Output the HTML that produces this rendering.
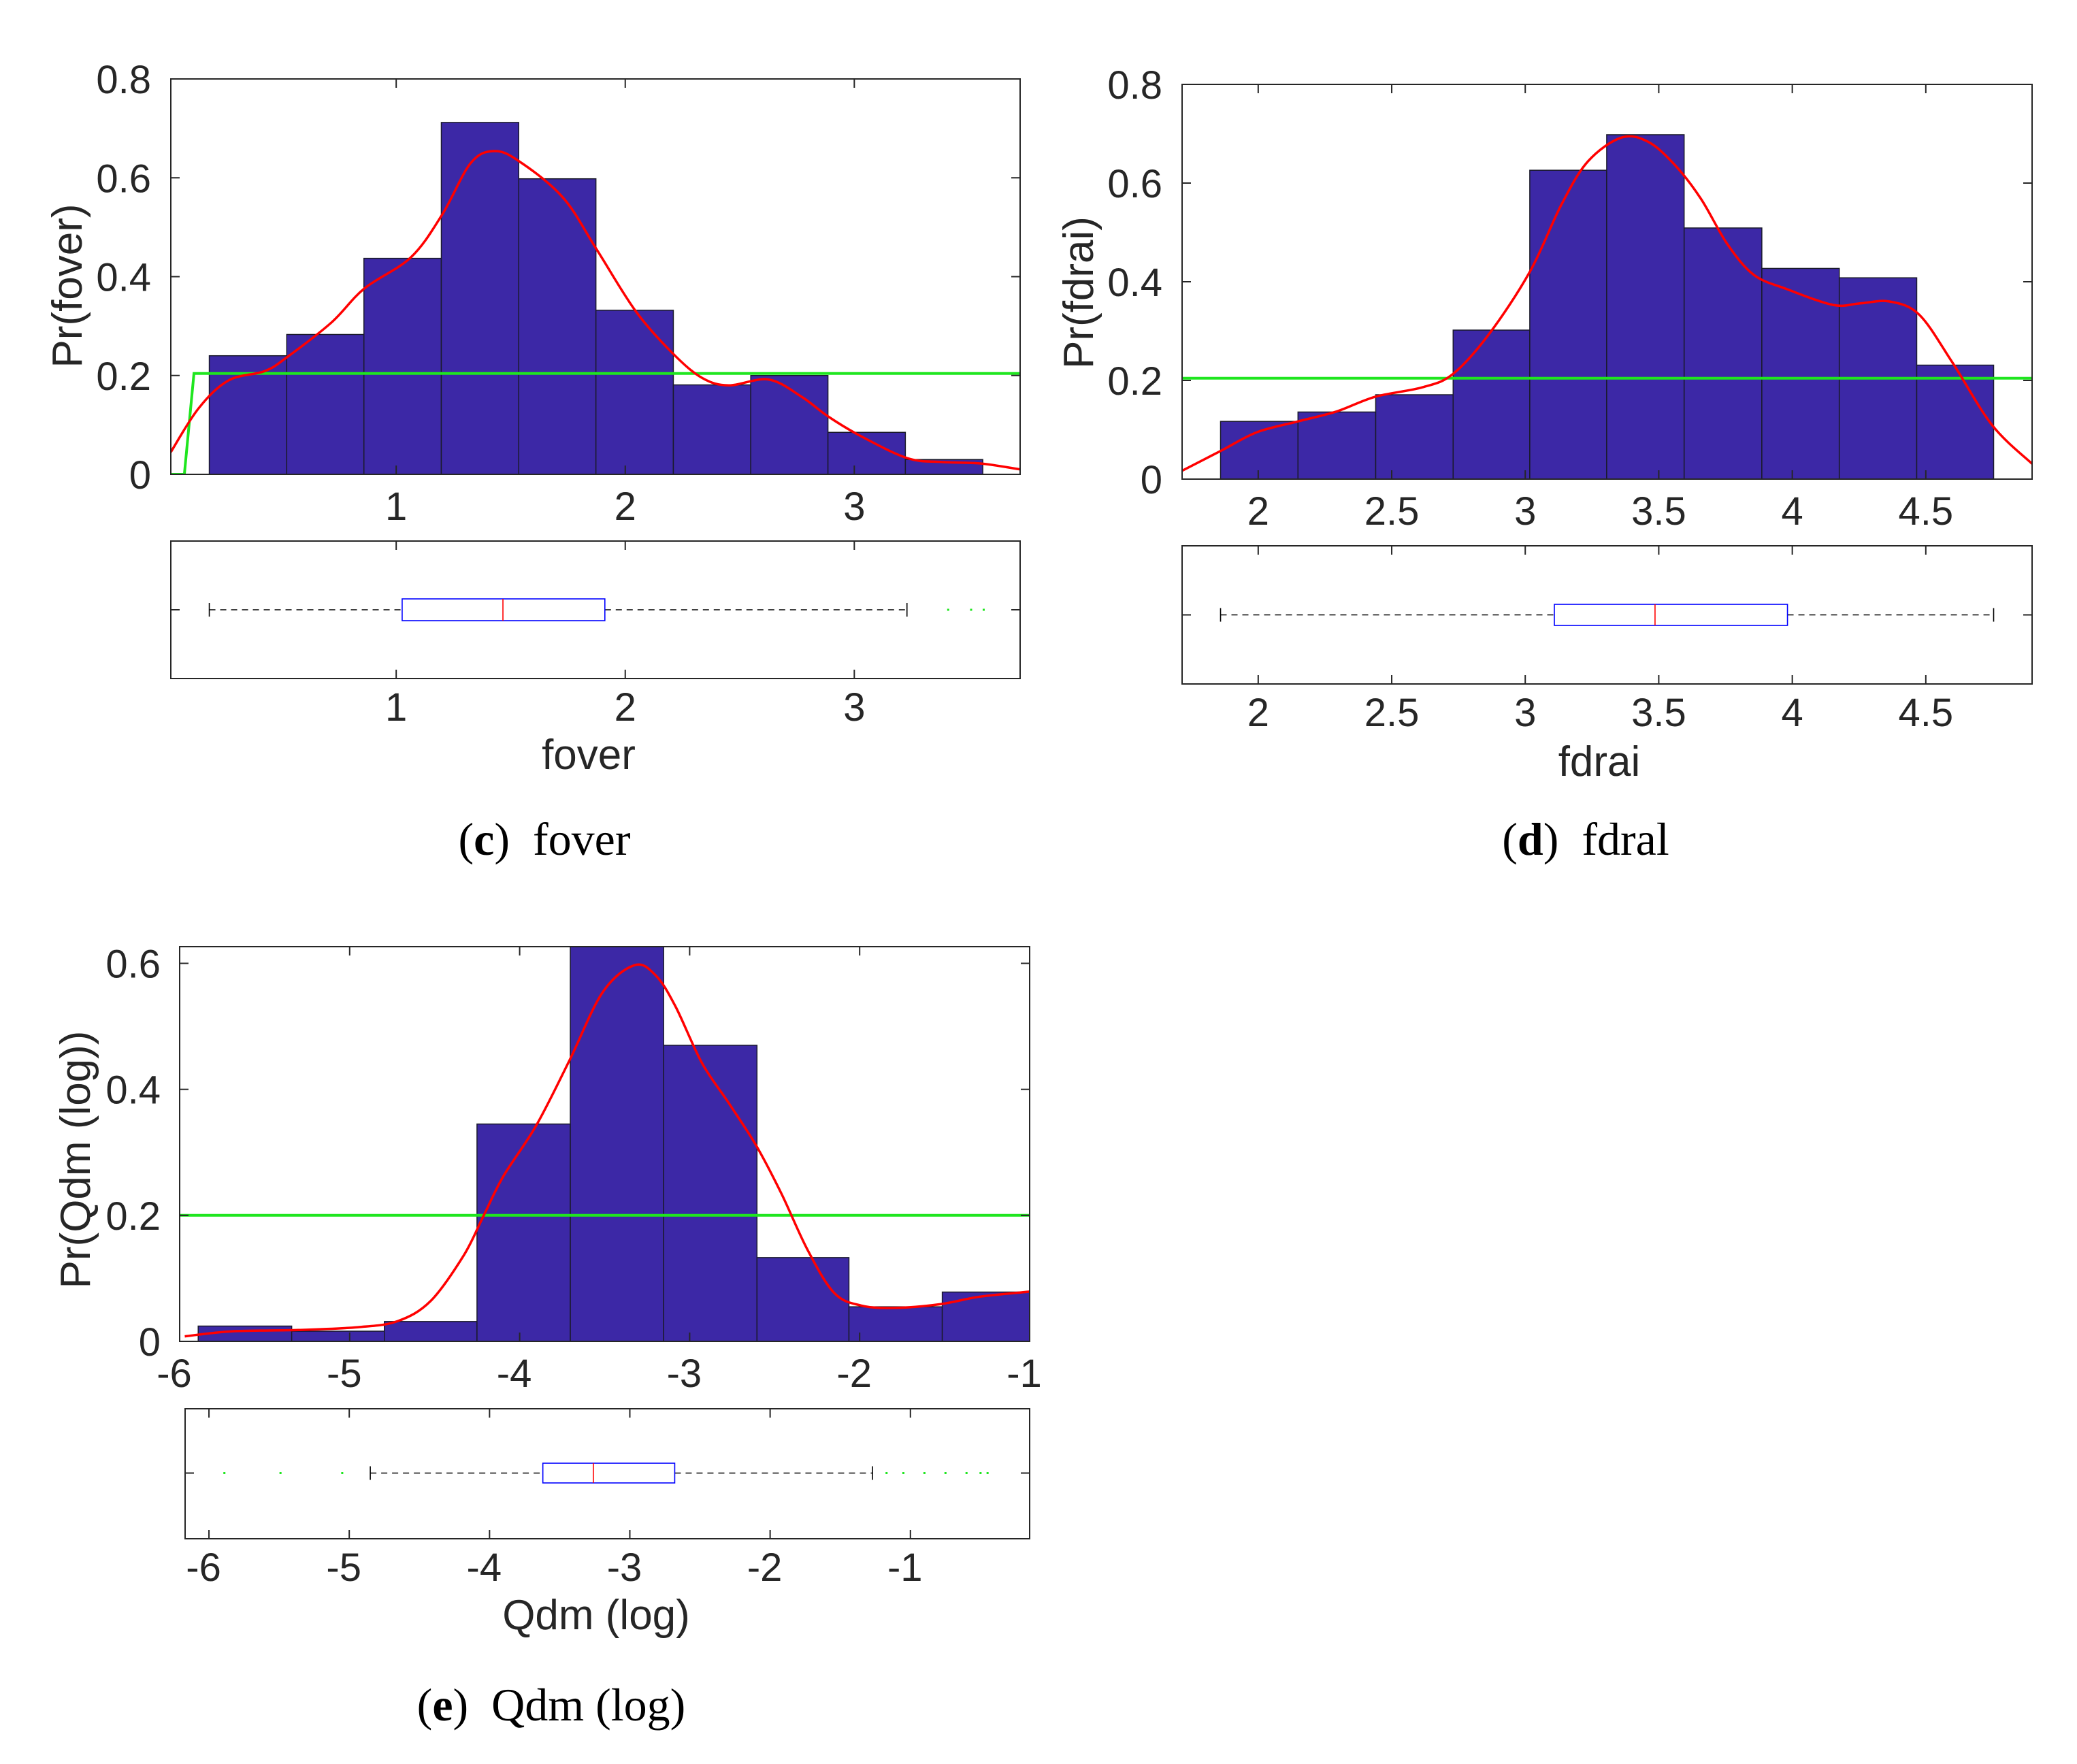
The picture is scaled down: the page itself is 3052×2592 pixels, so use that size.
<!DOCTYPE html>
<html><head><meta charset="utf-8"><style>
html,body{margin:0;padding:0;background:#fff}
svg{display:block}
text{font-family:"Liberation Sans",sans-serif;fill:#262626}
.cap{font-family:"Liberation Serif",serif;fill:#000}
</style></head>
<body>
<svg id="fig" width="3052" height="2592" viewBox="0 0 3052 2592" xmlns="http://www.w3.org/2000/svg">
<rect width="3052" height="2592" fill="#fff"/>
</svg>
<script>
// ---- Panel c: fover ----
const cBinEdges = [0.184,0.522,0.859,1.197,1.535,1.872,2.21,2.548,2.885,3.223,3.561];
const cBarValues = [0.24,0.283,0.437,0.712,0.598,0.332,0.181,0.2,0.085,0.03];
const cKdeX = [0.016,0.138,0.268,0.427,0.526,0.717,0.861,1.064,1.2,1.324,1.425,1.535,1.728,1.874,2.046,2.209,2.336,2.452,2.625,2.77,2.886,3.03,3.23,3.378,3.55,3.724];
const cKdeY = [0.045,0.134,0.19,0.209,0.238,0.307,0.376,0.439,0.525,0.629,0.654,0.634,0.56,0.456,0.33,0.244,0.195,0.18,0.192,0.157,0.117,0.077,0.033,0.025,0.022,0.01];
const cUniformX = [0.016,0.075,0.117,3.724];
const cUniformY = [0,0,0.204,0.204];
const cBox = [0.184,1.026,1.466,1.911,3.23];
const cOutliers = [3.41,3.51,3.565];
const cXTicks = [1,2,3];
const cYTicks = [0,0.2,0.4,0.6,0.8];
// ---- Panel d: fdrai ----
const dBinEdges = [1.859,2.149,2.44,2.73,3.017,3.305,3.595,3.886,4.176,4.466,4.754];
const dBarValues = [0.117,0.136,0.171,0.302,0.626,0.698,0.509,0.427,0.408,0.231];
const dKdeX = [1.715,1.859,1.995,2.149,2.293,2.439,2.615,2.729,2.863,3.017,3.136,3.235,3.359,3.459,3.558,3.657,3.756,3.856,3.98,4.153,4.252,4.364,4.476,4.6,4.749,4.898];
const dKdeY = [0.017,0.057,0.095,0.117,0.137,0.167,0.186,0.213,0.293,0.42,0.557,0.644,0.692,0.684,0.638,0.569,0.477,0.414,0.385,0.353,0.356,0.36,0.333,0.236,0.109,0.031];
const dUniformX = [1.715,4.898];
const dUniformY = [0.2046,0.2046];
const dBox = [1.859,3.109,3.486,3.982,4.754];
const dOutliers = [];
const dXTicks = [2,2.5,3,3.5,4,4.5];
const dYTicks = [0,0.2,0.4,0.6,0.8];
// ---- Panel e: Qdm (log) ----
const eBinEdges = [-5.891,-5.341,-4.796,-4.251,-3.702,-3.153,-2.604,-2.063,-1.514,-0.965];
const eBarValues = [0.0243,0.0162,0.0315,0.345,0.66,0.47,0.133,0.0549,0.0783];
const eKdeX = [-5.97,-5.692,-5.303,-4.953,-4.719,-4.524,-4.33,-4.213,-4.096,-3.902,-3.707,-3.512,-3.325,-3.2,-3.084,-2.928,-2.772,-2.609,-2.461,-2.306,-2.15,-1.994,-1.8,-1.527,-1.293,-1.0];
const eKdeY = [0.008,0.016,0.018,0.0225,0.032,0.064,0.136,0.199,0.262,0.343,0.446,0.554,0.597,0.581,0.532,0.442,0.379,0.311,0.235,0.145,0.077,0.057,0.053,0.059,0.071,0.079];
const eUniformX = [-6,-1];
const eUniformY = [0.2,0.2];
const eBox = [-4.85,-3.62,-3.26,-2.68,-1.27];
const eOutliers = [-5.89,-5.49,-5.05,-1.17,-1.05,-0.9,-0.75,-0.6,-0.5,-0.45];
const eXTicks = [-6,-5,-4,-3,-2,-1];
const eYTicks = [0,0.2,0.4,0.6];
const eBoxXTicks = [-6,-5,-4,-3,-2,-1];

const NS = "http://www.w3.org/2000/svg";
const fig = document.getElementById('fig');
function mk(tag, attrs, parent){
  const e = document.createElementNS(NS, tag);
  for (const k in attrs) e.setAttribute(k, attrs[k]);
  (parent||fig).appendChild(e);
  return e;
}
function fmt(v){ return (v<0?'-':'') + String(Math.abs(v)); }

function panel(P){
  const g = mk('g', {});
  
  
  const hx = v => P.L + (v - P.xmin) / (P.xmax - P.xmin) * (P.R - P.L);
  const hy = v => P.B - (v - P.ymin) / (P.ymax - P.ymin) * (P.B - P.T);
  const bx = v => P.bL + (v - P.bxmin) / (P.bxmax - P.bxmin) * (P.bR - P.bL);
  const clip = mk('clipPath', {id: 'clip-' + P.id}, g);
  mk('rect', {x: P.L, y: P.T, width: P.R - P.L, height: P.B - P.T}, clip);
  const plot = mk('g', {'clip-path': 'url(#clip-' + P.id + ')'}, g);
  for (let i = 0; i < P.vals.length; i++){
    const x0 = hx(P.edges[i]), x1 = hx(P.edges[i+1]);
    const r = mk('rect', {x: x0, y: hy(P.vals[i]), width: x1 - x0, height: hy(0) - hy(P.vals[i]), fill: '#3c28a6', stroke: '#1a1a2a', 'stroke-width': 1.5}, plot);
    
    
  }
  let d = P.ux.map((x,i) => (i ? 'L' : 'M') + hx(x).toFixed(1) + ',' + hy(P.uy[i]).toFixed(1)).join(' ');
  const u = mk('path', {d: d, fill: 'none', stroke: '#1fe61f', 'stroke-width': 4}, plot);
  
  
  const pts = P.kx.map((x,i) => [hx(x), hy(P.ky[i])]);
  d = 'M' + pts[0][0] + ',' + pts[0][1];
  for (let i = 0; i < pts.length - 1; i++){
    const p0 = pts[Math.max(0,i-1)], p1 = pts[i], p2 = pts[i+1], p3 = pts[Math.min(pts.length-1,i+2)];
    d += ' C' + (p1[0]+(p2[0]-p0[0])/6).toFixed(1) + ',' + (p1[1]+(p2[1]-p0[1])/6).toFixed(1) + ' ' +
         (p2[0]-(p3[0]-p1[0])/6).toFixed(1) + ',' + (p2[1]-(p3[1]-p1[1])/6).toFixed(1) + ' ' + p2[0].toFixed(1) + ',' + p2[1].toFixed(1);
  }
  const k = mk('path', {d: d, fill: 'none', stroke: '#f00', 'stroke-width': 3.5}, plot);
  
  
  const ax = mk('rect', {x: P.L, y: P.T, width: P.R - P.L, height: P.B - P.T, fill: 'none', stroke: '#262626', 'stroke-width': 2}, g);
  
  
  P.xt.forEach(v => {
    const x = hx(v);
    mk('line', {x1: x, x2: x, y1: P.B, y2: P.B - 13, stroke: '#262626', 'stroke-width': 2}, g);
    mk('line', {x1: x, x2: x, y1: P.T, y2: P.T + 13, stroke: '#262626', 'stroke-width': 2}, g);
    const t = mk('text', {x: x - (v<0?8:0), y: P.B + 67, 'font-size': 58, 'text-anchor': 'middle'}, g);
    t.textContent = fmt(v);
    
    
  });
  P.yt.forEach(v => {
    const y = hy(v);
    mk('line', {x1: P.L, x2: P.L + 13, y1: y, y2: y, stroke: '#262626', 'stroke-width': 2}, g);
    mk('line', {x1: P.R, x2: P.R - 13, y1: y, y2: y, stroke: '#262626', 'stroke-width': 2}, g);
    const t = mk('text', {x: P.yLabX, y: y + 21, 'font-size': 58, 'text-anchor': 'end'}, g);
    t.textContent = String(v);
    
    
  });
  const yl = mk('text', {x: 0, y: 0, 'font-size': 62, 'text-anchor': 'middle', transform: 'translate(' + P.ylx + ',' + P.yly + ') rotate(-90)'}, g);
  yl.textContent = P.ylabel;
  
  
  const bax = mk('rect', {x: P.bL, y: P.bT, width: P.bR - P.bL, height: P.bB - P.bT, fill: 'none', stroke: '#262626', 'stroke-width': 2}, g);
  
  
  const cy = (P.bT + P.bB) / 2 + P.bcOff;
  P.bxt.forEach(v => {
    const x = bx(v);
    mk('line', {x1: x, x2: x, y1: P.bB, y2: P.bB - 13, stroke: '#262626', 'stroke-width': 2}, g);
    mk('line', {x1: x, x2: x, y1: P.bT, y2: P.bT + 13, stroke: '#262626', 'stroke-width': 2}, g);
    const t = mk('text', {x: x - (v<0?8:0), y: P.bB + 62, 'font-size': 58, 'text-anchor': 'middle'}, g);
    t.textContent = fmt(v);
    
    
  });
  mk('line', {x1: P.bL, x2: P.bL + 13, y1: cy, y2: cy, stroke: '#262626', 'stroke-width': 2}, g);
  mk('line', {x1: P.bR, x2: P.bR - 13, y1: cy, y2: cy, stroke: '#262626', 'stroke-width': 2}, g);
  const [w0, q1, md, q3, w1] = P.box;
  const wl = mk('path', {d: 'M' + bx(w0) + ',' + cy + ' H' + bx(q1) + ' M' + bx(q3) + ',' + cy + ' H' + bx(w1), stroke: '#000', 'stroke-width': 1.6, 'stroke-dasharray': '9,7', fill: 'none'}, g);
  
  
  [w0, w1].forEach(v => mk('line', {x1: bx(v), x2: bx(v), y1: cy - 10, y2: cy + 10, stroke: '#000', 'stroke-width': 1.6}, g));
  const bh = P.boxH;
  const br = mk('rect', {x: bx(q1), y: cy - bh/2, width: bx(q3) - bx(q1), height: bh, fill: 'none', stroke: '#0000ff', 'stroke-width': 1.6}, g);
  
  
  const ml = mk('line', {x1: bx(md), x2: bx(md), y1: cy - bh/2, y2: cy + bh/2, stroke: '#f00', 'stroke-width': 1.6}, g);
  
  
  P.out.forEach(v => {
    const o = mk('rect', {x: bx(v) - 1.5, y: cy - 1.5, width: 3, height: 3, fill: '#1fe61f'}, g);
    
    
  });
  const xl = mk('text', {x: P.xlx, y: P.xly, 'font-size': 62, 'text-anchor': 'middle'}, g);
  xl.textContent = P.xlabel;
  
  
  const cap = mk('text', {x: P.capx, y: P.capy, 'font-size': 68, 'text-anchor': 'middle', class: 'cap'}, g);
  cap.innerHTML = '(<tspan font-weight="bold">' + P.letter + '</tspan>)\u2002' + P.capText;
  
  
}

panel({id:'fover', L:251, R:1499, T:116, B:697, xmin:0.016, xmax:3.724, ymin:0, ymax:0.8,
  edges:cBinEdges, vals:cBarValues, kx:cKdeX, ky:cKdeY, ux:cUniformX, uy:cUniformY,
  xt:cXTicks, yt:cYTicks, yLabX:222, ylabel:'Pr(fover)', ylx:120, yly:420,
  bL:251, bR:1499, bT:795, bB:997, bxmin:0.016, bxmax:3.724, bxt:cXTicks, box:cBox, out:cOutliers, bcOff:0, boxH:32,
  xlabel:'fover', xlx:865, xly:1130, letter:'c', capText:'fover', capx:800, capy:1256});

panel({id:'fdrai', L:1737, R:2986, T:124, B:704, xmin:1.715, xmax:4.898, ymin:0, ymax:0.8,
  edges:dBinEdges, vals:dBarValues, kx:dKdeX, ky:dKdeY, ux:dUniformX, uy:dUniformY,
  xt:dXTicks, yt:dYTicks, yLabX:1708, ylabel:'Pr(fdrai)', ylx:1606, yly:430,
  bL:1737, bR:2986, bT:802, bB:1005, bxmin:1.715, bxmax:4.898, bxt:dXTicks, box:dBox, out:dOutliers, bcOff:0, boxH:31,
  xlabel:'fdrai', xlx:2350, xly:1140, letter:'d', capText:'fdral', capx:2330, capy:1256});

panel({id:'qdm', L:264, R:1513, T:1391, B:1971, xmin:-6, xmax:-1, ymin:0, ymax:0.6265,
  edges:eBinEdges, vals:eBarValues, kx:eKdeX, ky:eKdeY, ux:eUniformX, uy:eUniformY,
  xt:eXTicks, yt:eYTicks, yLabX:236, ylabel:'Pr(Qdm (log))', ylx:132, yly:1704,
  bL:272, bR:1513, bT:2070, bB:2261, bxmin:-6.17, bxmax:-0.15, bxt:eBoxXTicks, box:eBox, out:eOutliers, bcOff:-1, boxH:29,
  xlabel:'Qdm (log)', xlx:876, xly:2394, letter:'e', capText:'Qdm (log)', capx:810, capy:2528});
</script>
</body></html>
